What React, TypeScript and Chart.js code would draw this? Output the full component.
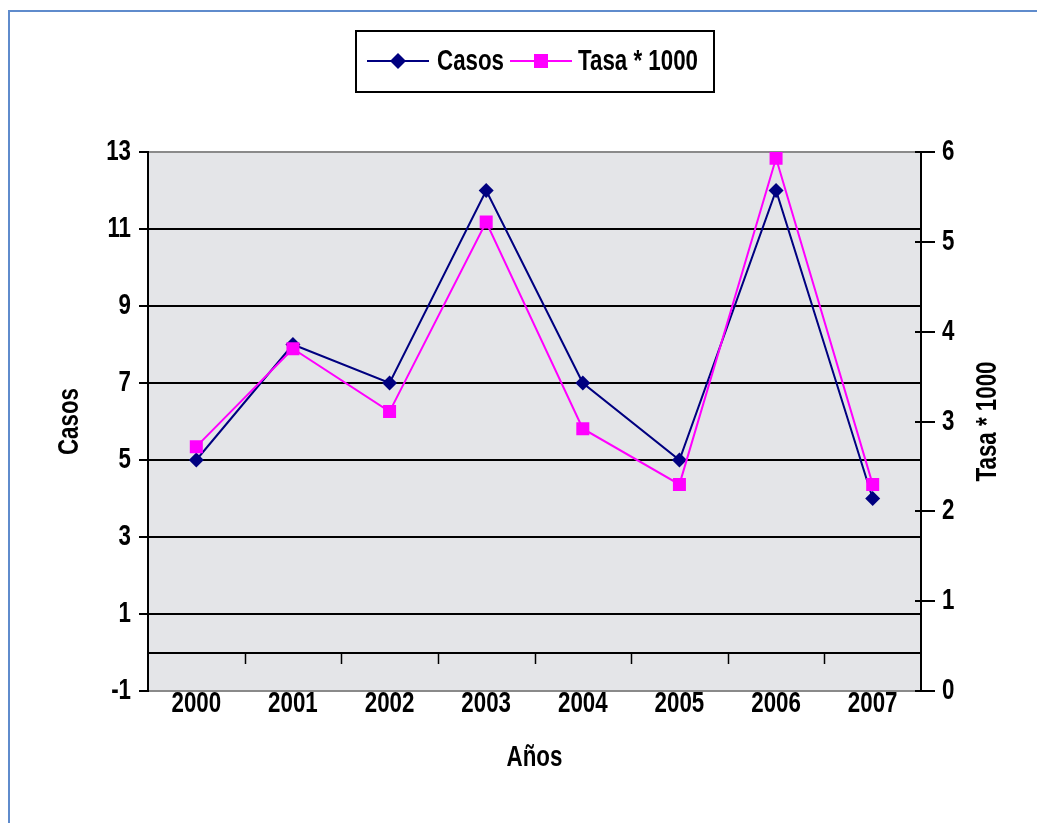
import { useEffect, useRef } from "react";
import { Chart, registerables } from "chart.js";

Chart.register(...registerables);

const years = ["2000", "2001", "2002", "2003", "2004", "2005", "2006", "2007"];
const casos = [5, 8, 7, 12, 7, 5, 12, 4];
const tasa = [2.72, 3.81, 3.11, 5.22, 2.92, 2.3, 5.93, 2.3];
const casosLabel = "Casos";
const tasaLabel = "Tasa * 1000";
const xTitle = "Años";
const leftRange = [-1, 13, 2];
const rightRange = [0, 6, 1];

const FAMILY = '"Liberation Sans", Arial, sans-serif';
const FS = 29;
const SX = 0.77; // horizontal condensing to mimic a narrow face

function txt(ctx: any, text: string, x: number, y: number, align: CanvasTextAlign, rot = 0) {
  ctx.save();
  ctx.translate(x, y);
  if (rot) ctx.rotate(rot);
  ctx.scale(SX, 1);
  ctx.font = `bold ${FS}px ${FAMILY}`;
  ctx.fillStyle = "#000";
  ctx.textAlign = align;
  ctx.textBaseline = "middle";
  ctx.fillText(text, 0, 0);
  ctx.restore();
}

const bgPlugin = {
  id: "bgPlugin",
  beforeDraw(chart: any) {
    const { ctx, chartArea: a } = chart;
    ctx.save();
    ctx.fillStyle = "#e4e5e8";
    ctx.fillRect(a.left, a.top, a.right - a.left, a.bottom - a.top);
    ctx.restore();
  },
  beforeDatasetsDraw(chart: any) {
    const { ctx, chartArea: a } = chart;
    const x = chart.scales.x;
    const y = chart.scales.y;
    const y1 = chart.scales.y1;
    ctx.save();
    const y0 = Math.round(y.getPixelForValue(0));
    ctx.strokeStyle = "#000";
    ctx.lineWidth = 2;
    ctx.beginPath();
    ctx.moveTo(a.left, y0);
    ctx.lineTo(a.right, y0);
    ctx.stroke();
    ctx.lineWidth = 1.5;
    for (let i = 0; i < years.length - 1; i++) {
      const bx = Math.round((x.getPixelForValue(i) + x.getPixelForValue(i + 1)) / 2) + 0.5;
      ctx.beginPath();
      ctx.moveTo(bx, y0);
      ctx.lineTo(bx, y0 + 11);
      ctx.stroke();
    }
    ctx.lineWidth = 2;
    for (let v = rightRange[0]; v <= rightRange[1]; v += rightRange[2]) {
      const py = Math.round(y1.getPixelForValue(v));
      ctx.beginPath();
      ctx.moveTo(a.right - 6, py);
      ctx.lineTo(a.right, py);
      ctx.stroke();
    }
    ctx.restore();
  },
  afterDraw(chart: any) {
    const { ctx, chartArea: a } = chart;
    const x = chart.scales.x;
    const y = chart.scales.y;
    const y1 = chart.scales.y1;
    const midY = (a.top + a.bottom) / 2;

    // tick labels
    y.ticks.forEach((t: any) => txt(ctx, String(t.value), 131, y.getPixelForValue(t.value), "right"));
    y1.ticks.forEach((t: any) => txt(ctx, String(t.value), 942, y1.getPixelForValue(t.value), "left"));
    years.forEach((lab, i) => txt(ctx, lab, x.getPixelForValue(i), 704, "center"));

    // axis titles
    txt(ctx, casosLabel, 70, midY, "center", -Math.PI / 2);
    txt(ctx, tasaLabel, 988, midY, "center", -Math.PI / 2);
    txt(ctx, xTitle, (a.left + a.right) / 2, 758, "center");

    // legend
    ctx.save();
    ctx.strokeStyle = "#000";
    ctx.lineWidth = 2;
    ctx.strokeRect(356, 31, 358, 61);
    const cy = 61;
    const lineStarts = [367, 510];
    const textStarts = [437, 578];
    chart.data.datasets.forEach((ds: any, i: number) => {
      const cx = lineStarts[i];
      ctx.strokeStyle = ds.borderColor;
      ctx.lineWidth = 2;
      ctx.beginPath();
      ctx.moveTo(cx, cy);
      ctx.lineTo(cx + 62, cy);
      ctx.stroke();
      const mx = cx + 31;
      ctx.fillStyle = ds.borderColor;
      if (ds.pointStyle === "rectRot") {
        const r = 8;
        ctx.beginPath();
        ctx.moveTo(mx - r, cy);
        ctx.lineTo(mx, cy - r);
        ctx.lineTo(mx + r, cy);
        ctx.lineTo(mx, cy + r);
        ctx.closePath();
        ctx.fill();
      } else {
        ctx.fillRect(mx - 7, cy - 7, 14, 14);
      }
      txt(ctx, ds.label, textStarts[i], cy + 1, "left");
    });
    ctx.restore();
  },
};

export default function App() {
  const ref = useRef<HTMLCanvasElement | null>(null);

  useEffect(() => {
    if (!ref.current) return;
    const chart = new Chart(ref.current, {
      type: "line",
      data: {
        labels: years,
        datasets: [
          {
            label: casosLabel,
            data: casos,
            yAxisID: "y",
            borderColor: "#000080",
            backgroundColor: "#000080",
            borderWidth: 2,
            pointStyle: "rectRot",
            pointRadius: 7.5,
            pointHoverRadius: 7.5,
            pointBorderWidth: 0,
            tension: 0,
            order: 1,
          },
          {
            label: tasaLabel,
            data: tasa,
            yAxisID: "y1",
            borderColor: "#ff00ff",
            backgroundColor: "#ff00ff",
            borderWidth: 2,
            pointStyle: "rect",
            pointRadius: 9.2,
            pointHoverRadius: 9.2,
            pointBorderWidth: 0,
            tension: 0,
            order: 0,
          },
        ],
      },
      options: {
        responsive: false,
        animation: false,
        events: [],
        layout: { padding: { top: 152, left: 0, right: 0, bottom: 0 } },
        plugins: {
          legend: { display: false },
          tooltip: { enabled: false },
        },
        scales: {
          x: {
            type: "category",
            offset: true,
            grid: { display: false, drawTicks: false },
            border: { display: false },
            ticks: { display: false, autoSkip: false, maxRotation: 0 },
            afterFit(scale: any) {
              scale.height = 132;
            },
          },
          y: {
            position: "left",
            min: leftRange[0],
            max: leftRange[1],
            ticks: { stepSize: leftRange[2], display: false },
            grid: {
              color: (c: any) =>
                c.tick && (c.tick.value === leftRange[0] || c.tick.value === leftRange[1]) ? "#8a8a8a" : "#000",
              lineWidth: 2,
              tickColor: "#000",
              tickLength: 9,
              tickWidth: 2,
            },
            border: { display: true, color: "#000", width: 2 },
            afterFit(scale: any) {
              scale.width = 148;
            },
          },
          y1: {
            position: "right",
            min: rightRange[0],
            max: rightRange[1],
            ticks: { stepSize: rightRange[2], display: false },
            grid: {
              drawOnChartArea: false,
              color: "#000",
              tickColor: "#000",
              tickLength: 14,
              lineWidth: 2,
            },
            border: { display: true, color: "#000", width: 2 },
            afterFit(scale: any) {
              scale.width = 116;
            },
          },
        },
      },
      plugins: [bgPlugin],
    });
    return () => chart.destroy();
  }, []);

  return (
    <div
      style={{
        position: "fixed",
        left: 0,
        top: 0,
        width: 1037,
        height: 823,
        overflow: "hidden",
        background: "#fff",
      }}
    >
      <div
        style={{
          position: "absolute",
          left: 8,
          top: 10,
          width: 1100,
          height: 900,
          border: "2px solid #5f8bcc",
        }}
      />
      <canvas
        ref={ref}
        width={1037}
        height={823}
        style={{ position: "absolute", left: 0, top: 0, width: 1037, height: 823 }}
      />
    </div>
  );
}
